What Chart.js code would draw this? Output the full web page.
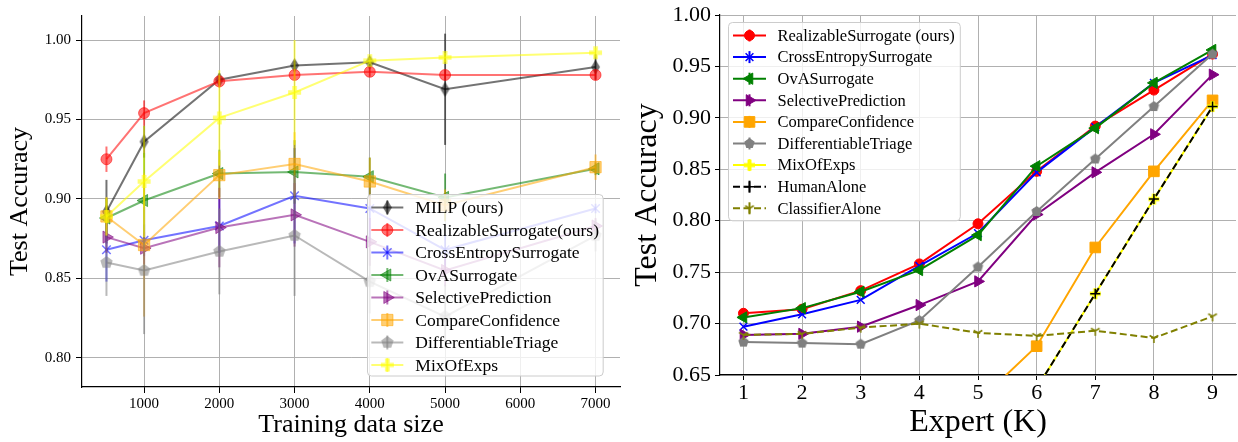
<!DOCTYPE html>
<html>
<head>
<meta charset="utf-8">
<script src="https://cdn.jsdelivr.net/npm/chart.js@4.4.1/dist/chart.umd.min.js"></script>
<style>
  html, body { margin: 0; padding: 0; background: #fff; }
  #wrap { position: relative; width: 1238px; height: 442px; }
  #left { position: absolute; left: 0; top: 0; }
  #right { position: absolute; left: 625px; top: 0; }
</style>
</head>
<body>
<div id="wrap">
  <canvas id="left" width="625" height="442"></canvas>
  <canvas id="right" width="613" height="442"></canvas>
</div>
<script>
// ---- left panel: accuracy vs training data size (mean and error) ----
const sizes = [500, 1000, 2000, 3000, 4000, 5000, 7000]
const sizeTicks = [1000, 2000, 3000, 4000, 5000, 6000, 7000]
const leftAccTicks = [0.80, 0.85, 0.90, 0.95, 1.00]

const milpAcc = [0.892, 0.936, 0.975, 0.984, 0.986, 0.969, 0.983]
const milpErr = [0.020, 0.010, 0.004, 0.003, 0.003, 0.035, 0.008]
const realizableAcc = [0.925, 0.954, 0.974, 0.978, 0.980, 0.978, 0.978]
const realizableErr = [0.008, 0.008, 0.004, 0.003, 0.003, 0.003, 0.003]
const crossEntropyAcc = [0.868, 0.874, 0.883, 0.902, 0.894, 0.868, 0.894]
const crossEntropyErr = [0.020, 0.010, 0.017, 0.030, 0.020, 0.010, 0.003]
const ovaAcc = [0.888, 0.899, 0.916, 0.917, 0.914, 0.901, 0.919]
const ovaErr = [0.012, 0.030, 0.015, 0.020, 0.012, 0.015, 0.004]
const selectiveAcc = [0.876, 0.869, 0.882, 0.890, 0.873, 0.855, 0.883]
const selectiveErr = [0.010, 0.010, 0.025, 0.020, 0.015, 0.010, 0.005]
const compareAcc = [0.889, 0.871, 0.915, 0.922, 0.911, 0.896, 0.920]
const compareErr = [0.012, 0.045, 0.015, 0.020, 0.015, 0.010, 0.008]
const triageAcc = [0.860, 0.855, 0.867, 0.877, 0.848, 0.826, 0.877]
const triageErr = [0.021, 0.040, 0.027, 0.038, 0.020, 0.020, 0.010]
const mixAcc = [0.889, 0.911, 0.951, 0.967, 0.987, 0.989, 0.992]
const mixErr = [0.012, 0.035, 0.030, 0.033, 0.002, 0.003, 0.003]

// ---- right panel: accuracy vs number of experts K ----
const experts = [1, 2, 3, 4, 5, 6, 7, 8, 9]
const rightAccTicks = [0.65, 0.70, 0.75, 0.80, 0.85, 0.90, 0.95, 1.00]

const realizableK = [0.710, 0.714, 0.732, 0.758, 0.797, 0.848, 0.892, 0.927, 0.962]
const crossEntropyK = [0.697, 0.709, 0.723, 0.756, 0.788, 0.847, 0.891, 0.934, 0.961]
const ovaK = [0.706, 0.715, 0.731, 0.752, 0.786, 0.853, 0.890, 0.934, 0.966]
const selectiveK = [0.689, 0.690, 0.697, 0.718, 0.741, 0.806, 0.847, 0.884, 0.942]
const compareK = [0.520, 0.550, 0.580, 0.600, 0.624, 0.678, 0.774, 0.848, 0.917]
const triageK = [0.682, 0.681, 0.680, 0.703, 0.755, 0.809, 0.860, 0.911, 0.962]
const mixK = [0.450, 0.490, 0.530, 0.570, 0.600, 0.637, 0.729, 0.821, 0.911]
const humanK = [0.450, 0.490, 0.530, 0.570, 0.600, 0.637, 0.729, 0.821, 0.911]
const classifierK = [0.689, 0.690, 0.696, 0.700, 0.691, 0.688, 0.693, 0.686, 0.707]

const FONT = '"Liberation Serif", "DejaVu Serif", serif'
const GRID = '#b0b0b0'

// marker shapes Chart.js lacks (pentagon, filled plus, thin diamond, tri_down)
function marker(shape, color, size) {
  const c = document.createElement('canvas')
  const s = Math.ceil(size) + 4
  c.width = s
  c.height = s
  const g = c.getContext('2d')
  g.translate(s / 2, s / 2)
  const r = size / 2
  g.fillStyle = color
  g.strokeStyle = color
  g.beginPath()
  if (shape === 'pentagon') {
    for (let k = 0; k < 5; k++) {
      const a = -Math.PI / 2 + k * 2 * Math.PI / 5
      g.lineTo(r * Math.cos(a), r * Math.sin(a))
    }
    g.closePath()
    g.fill()
  } else if (shape === 'plus') {
    const t = r * 0.36
    const pts = [[-t, -r], [t, -r], [t, -t], [r, -t], [r, t], [t, t], [t, r], [-t, r], [-t, t], [-r, t], [-r, -t], [-t, -t]]
    pts.forEach(([x, y]) => g.lineTo(x, y))
    g.closePath()
    g.fill()
  } else if (shape === 'thinDiamond') {
    g.moveTo(0, -r)
    g.lineTo(r * 0.6, 0)
    g.lineTo(0, r)
    g.lineTo(-r * 0.6, 0)
    g.closePath()
    g.fill()
  } else if (shape === 'triDown') {
    g.lineWidth = 1.5
    g.moveTo(0, 0); g.lineTo(0, r)
    g.moveTo(0, 0); g.lineTo(-0.87 * r, -0.5 * r)
    g.moveTo(0, 0); g.lineTo(0.87 * r, -0.5 * r)
    g.stroke()
  }
  return c
}

function series(xs, label, values, errors, color, style, extra) {
  return Object.assign({
    label,
    data: xs.map((x, i) => ({ x, y: values[i] })),
    errors,
    borderColor: color,
    backgroundColor: color,
    pointBackgroundColor: color,
    pointBorderColor: color,
    borderWidth: 2,
    pointBorderWidth: 1,
    pointStyle: style,
    pointRadius: 5,
    pointRotation: 0,
    tension: 0
  }, extra)
}

// vertical error bars, no caps, drawn under each line
const errorBars = {
  id: 'errorBars',
  beforeDatasetDraw(chart, args) {
    const ds = chart.data.datasets[args.index]
    if (!ds.errors) return
    const { ctx, chartArea: a } = chart
    const y = chart.scales.y
    ctx.save()
    ctx.beginPath()
    ctx.rect(a.left, a.top, a.right - a.left, a.bottom - a.top)
    ctx.clip()
    ctx.strokeStyle = ds.borderColor
    ctx.lineWidth = 2
    args.meta.data.forEach((pt, i) => {
      const v = ds.data[i].y
      const e = ds.errors[i]
      ctx.beginPath()
      ctx.moveTo(pt.x, y.getPixelForValue(v + e))
      ctx.lineTo(pt.x, y.getPixelForValue(v - e))
      ctx.stroke()
    })
    ctx.restore()
  }
}

// matplotlib-like framed legend inside the plot area
const boxLegend = {
  id: 'boxLegend',
  afterDatasetsDraw(chart, args, o) {
    const { ctx, chartArea: area } = chart
    const sets = chart.data.datasets
    ctx.save()
    ctx.font = `${o.fontSize}px ${FONT}`
    const textW = Math.max(...sets.map(d => ctx.measureText(d.label).width))
    const w = o.padX + o.handle + o.gap + textW + o.padX
    const h = o.padTop + o.row * (sets.length - 1) + o.padBottom
    const x0 = o.anchor === 'right' ? area.right - o.dx - w : area.left + o.dx
    const y0 = o.anchor === 'right' ? area.bottom - o.dy - h : area.top + o.dy
    ctx.beginPath()
    ctx.roundRect(Math.round(x0) + 0.5, Math.round(y0) + 0.5, w, h, 4)
    ctx.fillStyle = 'rgba(255,255,255,0.8)'
    ctx.fill()
    ctx.strokeStyle = '#cccccc'
    ctx.lineWidth = 1
    ctx.stroke()
    sets.forEach((d, i) => {
      const cy = y0 + o.padTop + o.row * i
      const hx = x0 + o.padX
      const cx = hx + o.handle / 2
      ctx.strokeStyle = d.borderColor
      ctx.lineWidth = d.borderWidth
      ctx.setLineDash(d.borderDash || [])
      ctx.beginPath()
      ctx.moveTo(hx, cy)
      ctx.lineTo(hx + o.handle, cy)
      ctx.stroke()
      ctx.setLineDash([])
      ctx.beginPath()
      ctx.moveTo(cx, cy - o.bar)
      ctx.lineTo(cx, cy + o.bar)
      ctx.stroke()
      ctx.fillStyle = d.pointBackgroundColor
      ctx.strokeStyle = d.pointBorderColor
      ctx.lineWidth = d.pointBorderWidth
      Chart.helpers.drawPoint(ctx, {
        pointStyle: d.pointStyle,
        rotation: d.pointRotation || 0,
        radius: d.pointRadius,
        borderWidth: d.pointBorderWidth
      }, cx, cy)
      ctx.fillStyle = '#000'
      ctx.textBaseline = 'middle'
      ctx.textAlign = 'left'
      ctx.fillText(d.label, hx + o.handle + o.gap, cy + 1)
    })
    ctx.restore()
  }
}

const A = 0.55
const leftSets = [
  series(sizes, 'MILP (ours)', milpAcc, milpErr, `rgba(0,0,0,${A})`, marker('thinDiamond', `rgba(0,0,0,${A})`, 15), { pointRadius: 7 }),
  series(sizes, 'RealizableSurrogate(ours)', realizableAcc, realizableErr, `rgba(255,0,0,${A})`, 'circle', { pointRadius: 5.5 }),
  series(sizes, 'CrossEntropySurrogate', crossEntropyAcc, crossEntropyErr, `rgba(0,0,255,${A})`, 'crossRot', { pointRadius: 6, pointBorderWidth: 1.5 }),
  series(sizes, 'OvASurrogate', ovaAcc, ovaErr, `rgba(0,128,0,${A})`, 'triangle', { pointRadius: 7, pointRotation: -90 }),
  series(sizes, 'SelectivePrediction', selectiveAcc, selectiveErr, `rgba(128,0,128,${A})`, 'triangle', { pointRadius: 7, pointRotation: 90 }),
  series(sizes, 'CompareConfidence', compareAcc, compareErr, `rgba(255,165,0,${A})`, 'rect', { pointRadius: 8 }),
  series(sizes, 'DifferentiableTriage', triageAcc, triageErr, `rgba(128,128,128,${A})`, marker('pentagon', `rgba(128,128,128,${A})`, 13), { pointRadius: 6 }),
  series(sizes, 'MixOfExps', mixAcc, mixErr, `rgba(255,255,0,${A})`, marker('plus', `rgba(255,255,0,${A})`, 13), { pointRadius: 6 })
]
leftSets.forEach((d, i) => { d.order = -i })

const rightSets = [
  series(experts, 'RealizableSurrogate (ours)', realizableK, null, '#ff0000', 'circle', { pointRadius: 5 }),
  series(experts, 'CrossEntropySurrogate', crossEntropyK, null, '#0000ff', 'crossRot', { pointRadius: 5.5, pointBorderWidth: 1.5 }),
  series(experts, 'OvASurrogate', ovaK, null, '#008000', 'triangle', { pointRadius: 6.5, pointRotation: -90 }),
  series(experts, 'SelectivePrediction', selectiveK, null, '#800080', 'triangle', { pointRadius: 6.5, pointRotation: 90 }),
  series(experts, 'CompareConfidence', compareK, null, '#ffa500', 'rect', { pointRadius: 7.5 }),
  series(experts, 'DifferentiableTriage', triageK, null, '#808080', marker('pentagon', '#808080', 11), { pointRadius: 5 }),
  series(experts, 'MixOfExps', mixK, null, '#ffff00', marker('plus', '#ffff00', 11), { pointRadius: 5 }),
  series(experts, 'HumanAlone', humanK, null, '#000000', 'cross', { pointRadius: 5, pointBorderWidth: 1.5, borderDash: [7, 3.5] }),
  series(experts, 'ClassifierAlone', classifierK, null, '#808000', marker('triDown', '#808000', 10), { pointRadius: 5, borderDash: [7, 3.5] })
]
rightSets.forEach((d, i) => { d.order = -i })

function axes(cfg) {
  return {
    x: {
      type: 'linear',
      min: cfg.xMin,
      max: cfg.xMax,
      afterBuildTicks: s => { s.ticks = cfg.xTicks.map(v => ({ value: v })) },
      afterFit: s => { s.height = cfg.xHeight; s.paddingLeft = 0; s.paddingRight = 0 },
      grid: { color: GRID, lineWidth: 1, drawTicks: true, tickLength: cfg.tickLen, tickColor: '#000' },
      border: { color: '#000', width: 1.2 },
      ticks: { color: '#000', font: { family: FONT, size: cfg.tickSize }, padding: cfg.xTickPad, maxRotation: 0, callback: v => String(v) },
      title: { display: true, text: cfg.xTitle, color: '#000', font: { family: FONT, size: cfg.titleSize }, padding: { top: 0, bottom: cfg.xTitlePad } }
    },
    y: {
      type: 'linear',
      min: cfg.yMin,
      max: cfg.yMax,
      afterBuildTicks: s => { s.ticks = cfg.yTicks.map(v => ({ value: v })) },
      afterFit: s => { s.width = cfg.yWidth; s.paddingTop = 0; s.paddingBottom = 0 },
      grid: { color: GRID, lineWidth: 1, drawTicks: true, tickLength: cfg.tickLen, tickColor: '#000' },
      border: { color: '#000', width: 1.2 },
      ticks: { color: '#000', font: { family: FONT, size: cfg.tickSize }, padding: cfg.yTickPad, callback: v => v.toFixed(2) },
      title: { display: true, text: 'Test Accuracy', color: '#000', font: { family: FONT, size: cfg.titleSize }, padding: { top: cfg.yTitlePad, bottom: 0 } }
    }
  }
}

new Chart(document.getElementById('left'), {
  type: 'line',
  data: { datasets: leftSets },
  plugins: [errorBars, boxLegend],
  options: {
    responsive: false,
    animation: false,
    layout: { autoPadding: false, padding: { left: 0, right: 5, top: 16, bottom: 0 } },
    scales: axes({
      xMin: 175, xMax: 7325, xTicks: sizeTicks, xHeight: 55, tickSize: 15, tickLen: 6, xTickPad: 2,
      xTitle: 'Training data size', xTitlePad: 1,
      yMin: 0.7817, yMax: 1.0151, yTicks: leftAccTicks, yWidth: 82, yTickPad: 5,
      yTitlePad: 5, titleSize: 26
    }),
    plugins: {
      legend: { display: false },
      tooltip: { enabled: false },
      boxLegend: { anchor: 'right', dx: 17, dy: 12, fontSize: 17.5, row: 22.5, padTop: 14, padBottom: 10, padX: 4, handle: 32, gap: 12, bar: 7 }
    }
  }
})

new Chart(document.getElementById('right'), {
  type: 'line',
  data: { datasets: rightSets },
  plugins: [boxLegend],
  options: {
    responsive: false,
    animation: false,
    layout: { autoPadding: false, padding: { left: 0, right: 2, top: 15, bottom: 0 } },
    scales: axes({
      xMin: 0.6, xMax: 9.4, xTicks: experts, xHeight: 67, tickSize: 22, tickLen: 5, xTickPad: 0,
      xTitle: 'Expert (K)', xTitlePad: 0,
      yMin: 0.65, yMax: 1.00, yTicks: rightAccTicks, yWidth: 95, yTickPad: 4,
      yTitlePad: 3, titleSize: 32
    }),
    plugins: {
      legend: { display: false },
      tooltip: { enabled: false },
      boxLegend: { anchor: 'left', dx: 8, dy: 7, fontSize: 16.5, row: 21.6, padTop: 13.5, padBottom: 12, padX: 5, handle: 33, gap: 11.5, bar: 6 }
    }
  }
})
</script>
</body>
</html>
